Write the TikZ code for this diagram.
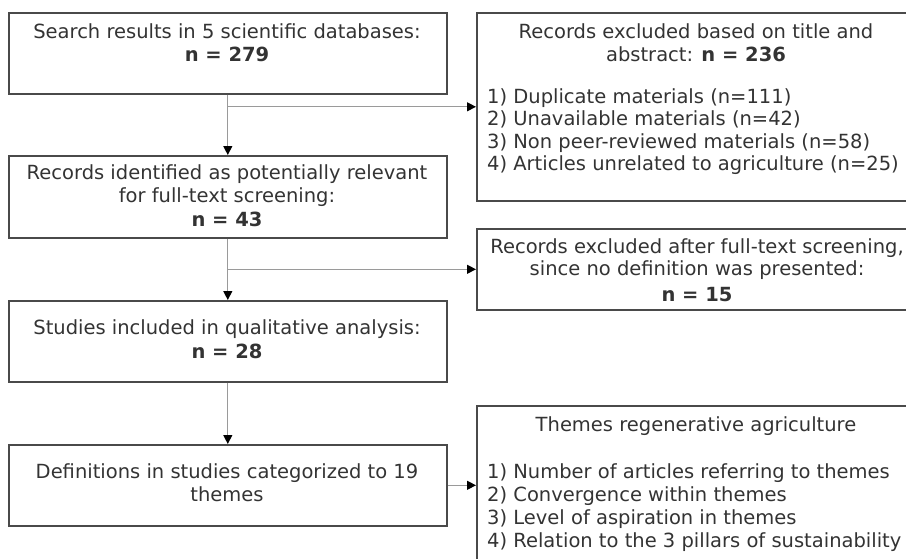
\documentclass[tikz,border=0pt]{standalone}
\usepackage{fontspec}
\setmainfont{DejaVu Sans}
\usetikzlibrary{arrows.meta}
\definecolor{boxc}{HTML}{4A4A4A}
\definecolor{linec}{HTML}{9A9A9A}
\definecolor{txtc}{HTML}{333333}
\begin{document}
\begin{tikzpicture}[x=1pt,y=-1pt,
  box/.style={draw=boxc,line width=1.6pt,rectangle,inner sep=0pt,anchor=north west},
  lbl/.style={text=txtc,font=\fontsize{19.5}{23}\selectfont,inner sep=0pt,anchor=base},
  lst/.style={text=txtc,font=\fontsize{19.5}{23}\selectfont,inner sep=0pt,anchor=base west},
  conn/.style={draw=linec,line width=1.2pt},
  arr/.style={conn,-{Triangle[length=9pt,width=9pt,color=black]}}]
\clip (0,0) rectangle (906,558);
% left column boxes
\node[box,minimum width=438pt,minimum height=81pt] (b1) at (8,12) {};
\node[box,minimum width=438pt,minimum height=82pt] (b2) at (8,155) {};
\node[box,minimum width=438pt,minimum height=81pt] (b3) at (8,300) {};
\node[box,minimum width=438pt,minimum height=81pt] (b4) at (8,444) {};
% right column boxes (cut by the picture edge)
\node[box,minimum width=440pt,minimum height=188pt] (bA) at (476,12) {};
\node[box,minimum width=440pt,minimum height=81pt] (bB) at (476,228) {};
\node[box,minimum width=440pt,minimum height=160pt] (bC) at (476,405) {};
% texts
\node[lbl] (t1a) at (227,38.5) {Search results in 5 scientific databases:};
\node[lbl] (t1b) at (227,61.5) {\bfseries n = 279};
\node[lbl] (t2a) at (227,179.5) {Records identified as potentially relevant};
\node[lbl] (t2b) at (227,202.5) {for full-text screening:};
\node[lbl] (t2c) at (227,226) {\bfseries n = 43};
\node[lbl] (t3a) at (227,334.5) {Studies included in qualitative analysis:};
\node[lbl] (t3b) at (227,358) {\bfseries n = 28};
\node[lbl] (t4a) at (227,478.5) {Definitions in studies categorized to 19};
\node[lbl] (t4b) at (227,501.5) {themes};
\node[lbl] (tAa) at (696,38.5) {Records excluded based on title and};
\node[lbl] (tAb) at (696,61.5) {abstract: \bfseries n = 236};
\node[lst] (tA1) at (487,103) {1) Duplicate materials (n=111)};
\node[lst] (tA2) at (487,125) {2) Unavailable materials (n=42)};
\node[lst] (tA3) at (487,148) {3) Non peer-reviewed materials (n=58)};
\node[lst] (tA4) at (487,170) {4) Articles unrelated to agriculture (n=25)};
\node[lbl] (tBa) at (697,253.5) {Records excluded after full-text screening,};
\node[lbl] (tBb) at (697,275.5) {since no definition was presented:};
\node[lbl] (tBc) at (697,301.5) {\bfseries n = 15};
\node[lbl] (tCa) at (696,431.5) {Themes regenerative agriculture};
\node[lst] (tC1) at (487,478.5) {1) Number of articles referring to themes};
\node[lst] (tC2) at (487,501.5) {2) Convergence within themes};
\node[lst] (tC3) at (487,524.5) {3) Level of aspiration in themes};
\node[lst] (tC4) at (487,547.5) {4) Relation to the 3 pillars of sustainability};
% connectors
\draw[arr] (b1.south) -- (b2.north);
\draw[arr] (b1.south |- bA.west) -- (bA.west);
\draw[arr] (b2.south) -- (b3.north);
\draw[arr] (b2.south |- bB.west) -- (bB.west);
\draw[arr] (b3.south) -- (b4.north);
\draw[arr] (b4.east) -- (b4.east -| bC.west);
\end{tikzpicture}
\end{document}
